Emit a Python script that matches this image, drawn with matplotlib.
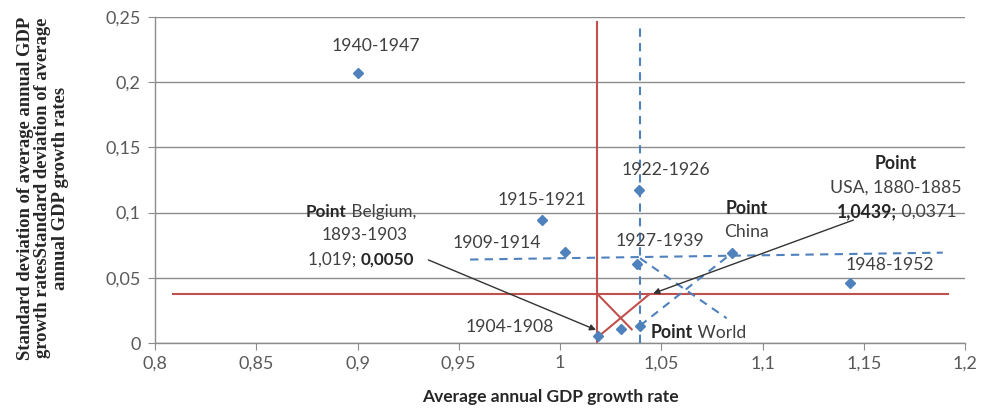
import matplotlib.pyplot as plt
from matplotlib.ticker import FuncFormatter, MultipleLocator

# scatter points: average annual GDP growth rate vs its standard deviation
growth = [0.900, 0.991, 1.0025, 1.019, 1.030, 1.039, 1.038, 1.0395, 1.0848, 1.143]
stdev = [0.207, 0.094, 0.070, 0.005, 0.0107, 0.117, 0.0606, 0.0133, 0.0688, 0.0458]

periods = ["1940-1947", "1915-1921", "1909-1914", "1904-1908",
           "1922-1926", "1927-1939", "1948-1952"]
period_x = [0.909, 0.991, 0.9687, 0.9753, 1.0522, 1.0494, 1.163]
period_y = [0.2278, 0.1097, 0.0765, 0.0125, 0.1327, 0.0782, 0.0598]

# red solid construction lines (Belgium / USA)
red_x = [[1.0185, 1.0185], [0.809, 1.1918], [1.0185, 1.0354], [1.019, 1.0439]]
red_y = [[0.0, 0.2465], [0.0375, 0.0375], [0.0375, 0.0105], [0.005, 0.0371]]

# blue dashed construction lines (World / China)
blue_x = [[1.0395, 1.0395], [0.9556, 1.189], [1.0395, 1.0823], [1.0395, 1.0848]]
blue_y = [[0.0, 0.2413], [0.064, 0.0693], [0.065, 0.019], [0.0133, 0.0688]]

BLUE = "#4F81BD"
RED = "#C0504D"
GRID = "#8C8C8C"
TXT = "#404040"
DARK = "#262626"
FONT = "Lato"

fig = plt.figure(figsize=(9.81, 4.12), dpi=100)
ax = fig.add_axes([155 / 981, 1 - 343 / 412, 810 / 981, 326 / 412])

for xs, ys in zip(red_x, red_y):
    ax.plot(xs, ys, color=RED, lw=1.5, zorder=3)
for xs, ys in zip(blue_x, blue_y):
    ax.plot(xs, ys, color=BLUE, lw=1.5, ls=(0, (4, 3)), zorder=3)

ax.plot(growth, stdev, ls="none", marker="D", ms=5.5, color=BLUE, zorder=4)

for lab, lx, ly in zip(periods, period_x, period_y):
    ax.text(lx, ly, lab, ha="center", va="center", fontsize=12.7,
            family=FONT, color=TXT, zorder=5)


def mixed_line(x, y, parts, size):
    # parts: list of (text, weight); drawn left to right starting at x
    t = ax.text(x, y, parts[0][0], ha="left", va="center", fontsize=size,
                family=FONT, fontweight=parts[0][1],
                color=TXT if parts[0][1] == "normal" else DARK, zorder=5)
    for txt, w in parts[1:]:
        t = ax.annotate(txt, xy=(1, 0.5), xycoords=t, va="center", ha="left",
                        fontsize=size, family=FONT, fontweight=w,
                        color=TXT if w == "normal" else DARK, zorder=5)


# Belgium callout
mixed_line(0.8745, 0.1007, [("Point", "bold"), (" Belgium,", "normal")], 12.3)
ax.text(0.9037, 0.0828, "1893-1903", ha="center", va="center", fontsize=12.3,
        family=FONT, color=TXT)
mixed_line(0.8755, 0.0637, [("1,019; ", "normal"), ("0,0050", "bold")], 12.3)

# USA callout
ax.text(1.1659, 0.1378, "Point", ha="center", va="center", fontsize=12.7,
        family=FONT, fontweight="bold", color=DARK)
ax.text(1.1659, 0.1194, "USA, 1880-1885", ha="center", va="center",
        fontsize=12.7, family=FONT, color=TXT)
mixed_line(1.1369, 0.1007, [("1,0439;", "bold"), (" 0,0371", "normal")], 12.7)

# China callout
ax.text(1.0922, 0.1033, "Point", ha="center", va="center", fontsize=12.7,
        family=FONT, fontweight="bold", color=DARK)
ax.text(1.0922, 0.0854, "China", ha="center", va="center", fontsize=12.7,
        family=FONT, color=TXT)

# World callout
mixed_line(1.0448, 0.0079, [("Point", "bold"), (" World", "normal")], 12.7)

arrow = dict(arrowstyle="-|>", color="#333333", lw=1, mutation_scale=9,
             shrinkA=0, shrinkB=0)
ax.annotate("", xy=(1.0178, 0.010), xytext=(0.935, 0.0637), arrowprops=arrow, zorder=6)
ax.annotate("", xy=(1.046, 0.038), xytext=(1.1449, 0.0943), arrowprops=arrow, zorder=6)

ax.set_xlim(0.8, 1.2)
ax.set_ylim(0, 0.25)
ax.xaxis.set_major_locator(MultipleLocator(0.05))
ax.yaxis.set_major_locator(MultipleLocator(0.05))
fmt = FuncFormatter(lambda v, _: f"{round(v, 3):g}".replace(".", ","))
ax.xaxis.set_major_formatter(fmt)
ax.yaxis.set_major_formatter(fmt)
ax.grid(axis="y", color=GRID, lw=1)
ax.set_axisbelow(True)
for s in ("top", "right"):
    ax.spines[s].set_visible(False)
for s in ("left", "bottom"):
    ax.spines[s].set_color(GRID)
    ax.spines[s].set_linewidth(1)
ax.tick_params(direction="out", length=5, color=GRID, labelsize=13,
               labelcolor="#595959")
ax.tick_params(axis="x", pad=4)
ax.tick_params(axis="y", pad=5.5)
for lbl in ax.get_xticklabels() + ax.get_yticklabels():
    lbl.set_family(FONT)

fig.text(550 / 981, 1 - 397 / 412, "Average annual GDP growth rate",
         ha="center", va="center", fontsize=12.5, family=FONT,
         fontweight="bold", color=DARK)
fig.text(43 / 981, 1 - 188 / 412,
         "Standard deviation of average annual GDP\n"
         "growth ratesStandard deviation of average\n"
         "annual GDP growth rates",
         rotation=90, ha="center", va="center", multialignment="center",
         fontsize=13.4, family="Liberation Serif", fontweight="bold",
         color=DARK, linespacing=1.02)

fig.savefig("out.png", dpi=100)
